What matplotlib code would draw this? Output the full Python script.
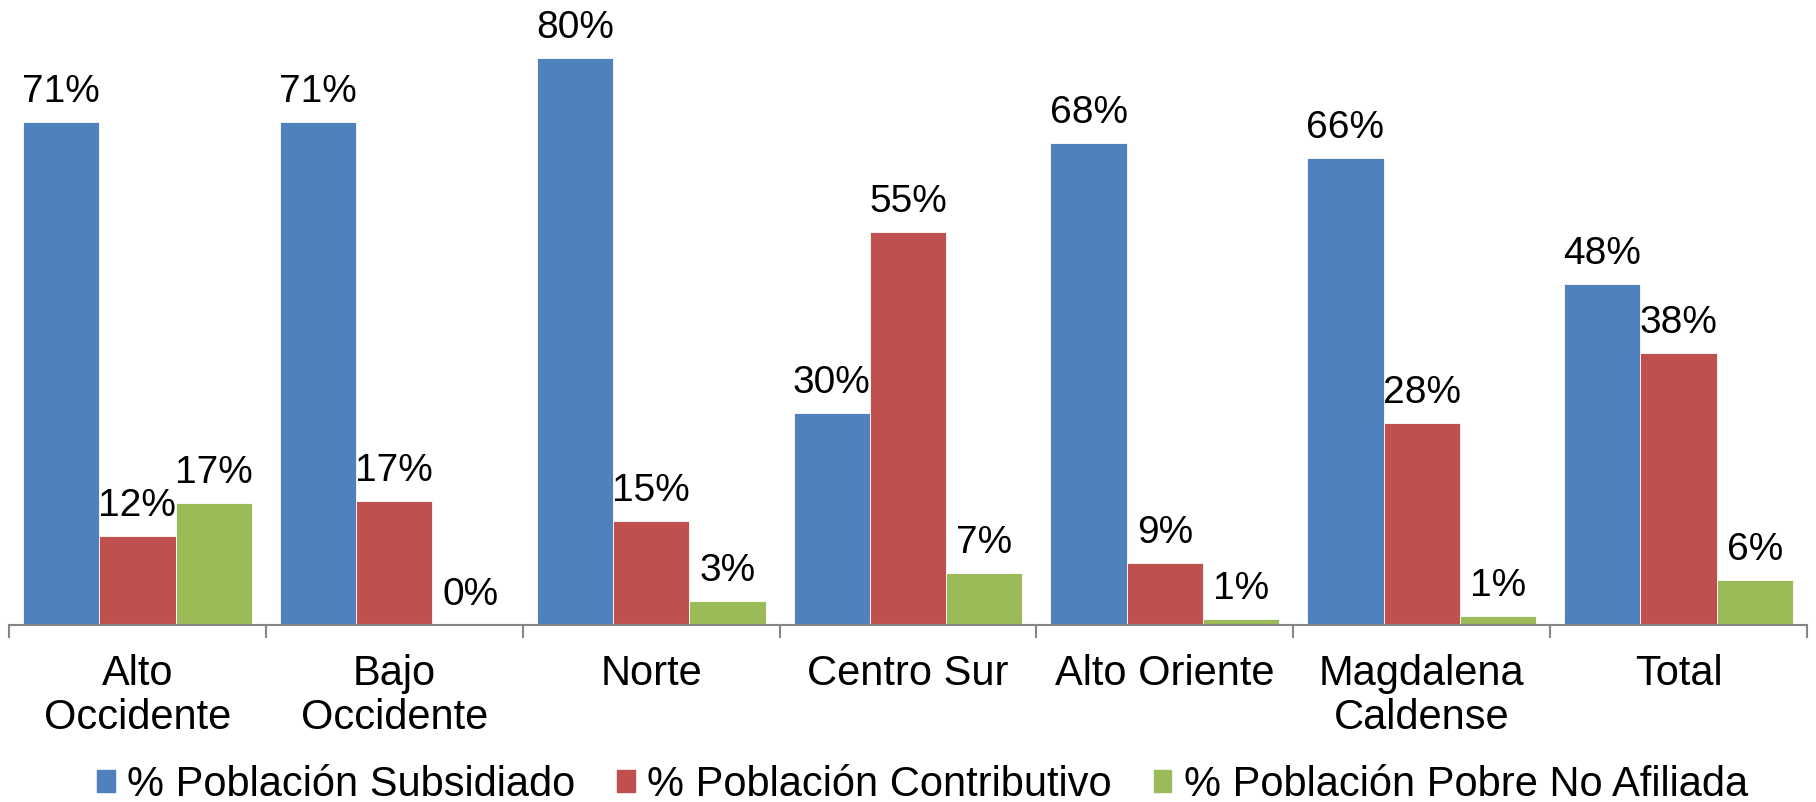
import numpy as np
import matplotlib.pyplot as plt
from matplotlib.patches import Patch

regiones = ['Alto\nOccidente', 'Bajo\nOccidente', 'Norte', 'Centro Sur',
            'Alto Oriente', 'Magdalena\nCaldense', 'Total']
subsidiado = [71.0, 71.0, 80.1, 29.9, 68.1, 66.0, 48.2]
contributivo = [12.6, 17.5, 14.7, 55.5, 8.8, 28.6, 38.4]
pobre_no_afiliada = [17.3, 0.0, 3.4, 7.4, 0.8, 1.3, 6.4]
etiquetas = [['71%', '71%', '80%', '30%', '68%', '66%', '48%'],
             ['12%', '17%', '15%', '55%', '9%', '28%', '38%'],
             ['17%', '0%', '3%', '7%', '1%', '1%', '6%']]
series = ['% Población Subsidiado', '% Población Contributivo',
          '% Población Pobre No Afiliada']
colores = ['#4F81BD', '#C0504D', '#9BBB59']

plt.rcParams['font.family'] = ['Liberation Sans', 'DejaVu Sans']

fig = plt.figure(figsize=(18.16, 8.02), dpi=100)
ax = fig.add_axes([9 / 1816, 177 / 802, 1798 / 1816, 625 / 802])

x = np.arange(len(regiones))
w = 0.297
valores = [subsidiado, contributivo, pobre_no_afiliada]
for k, vals in enumerate(valores):
    pos = x + (k - 1) * w
    ax.bar(pos, vals, width=w, color=colores[k], edgecolor='white',
           linewidth=0.6)
    for px, v, lab in zip(pos, vals, etiquetas[k]):
        ax.annotate(lab, (px, v), xytext=(0, 14.4), textcoords='offset points',
                    ha='center', va='baseline', fontsize=28)

ax.set_xlim(-0.5, len(regiones) - 0.5)
ax.set_ylim(0, 88.3)
for s in ['top', 'right', 'left']:
    ax.spines[s].set_visible(False)
ax.spines['bottom'].set_color('#868686')
ax.spines['bottom'].set_linewidth(1.5)
ax.set_yticks([])
ax.set_xticks(x)
ax.set_xticklabels(regiones, fontsize=30, linespacing=1.12)
ax.tick_params(axis='x', which='major', length=0, pad=21)
ax.set_xticks(np.arange(-0.5, len(regiones)), minor=True)
ax.tick_params(axis='x', which='minor', length=9, width=1.5, color='#868686')

handles = [Patch(color=c, label=s) for c, s in zip(colores, series)]
fig.legend(handles=handles, loc='lower center', bbox_to_anchor=(0.508, -0.05),
           ncol=3, frameon=False, fontsize=30, handlelength=0.42,
           handleheight=0.42, handletextpad=0.3, columnspacing=1.0)

fig.savefig('out.png', dpi=100)
